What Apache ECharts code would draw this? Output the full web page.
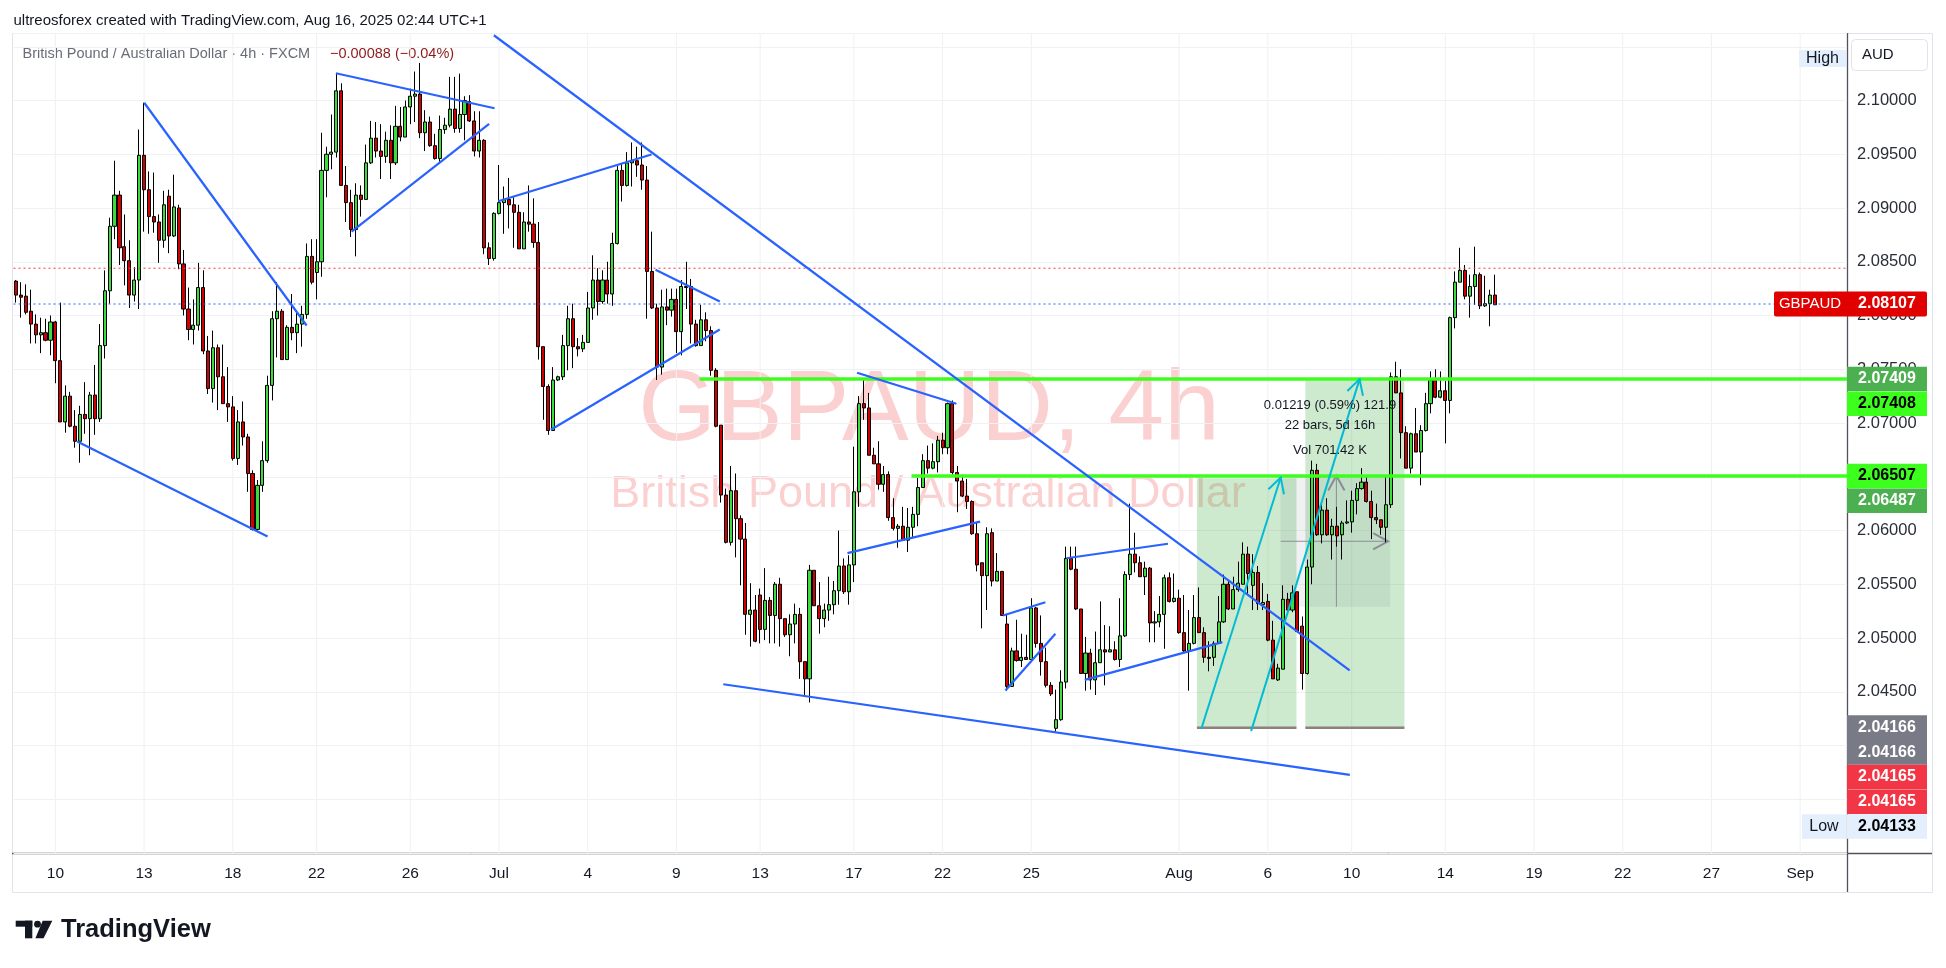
<!DOCTYPE html>
<html><head><meta charset="utf-8">
<script src="https://cdn.jsdelivr.net/npm/echarts@6/dist/echarts.min.js"></script>
<style>html,body{margin:0;padding:0;background:#fff}#c{width:1946px;height:968px}</style>
</head><body><div id="c"></div>
<script>
// ---------- DATA ----------
// 4h candles [open, close, low, high]
const juneBars = [
[2.0832,2.0819,2.0812,2.0833],[2.0819,2.0817,2.0798,2.0831],[2.0818,2.0803,2.0801,2.0829],[2.0804,2.0792,2.0774,2.0824],
[2.0792,2.0782,2.0774,2.0801],[2.0782,2.0784,2.0765,2.0798],[2.0784,2.0777,2.0776,2.0797],[2.0777,2.0794,2.0763,2.0800],
[2.0794,2.0758,2.0737,2.0795],[2.0758,2.0701,2.0701,2.0812],[2.0701,2.0725,2.0691,2.0735],[2.0725,2.0697,2.0696,2.0729],
[2.0697,2.0683,2.0677,2.0712],[2.0683,2.0708,2.0663,2.0716],[2.0708,2.0704,2.0690,2.0738],[2.0704,2.0726,2.0670,2.0729],
[2.0726,2.0704,2.0689,2.0754],[2.0704,2.0772,2.0701,2.0792],[2.0772,2.0823,2.0760,2.0842],[2.0823,2.0883,2.0811,2.0891],
[2.0883,2.0912,2.0871,2.0944],[2.0912,2.0863,2.0847,2.0916],[2.0864,2.0851,2.0828,2.0894],[2.0851,2.0819,2.0807,2.0870],
[2.0819,2.0833,2.0813,2.0845],[2.0833,2.0949,2.0806,2.0973],[2.0949,2.0917,2.0878,2.0998],[2.0917,2.0892,2.0876,2.0934],
[2.0892,2.0887,2.0877,2.0933],[2.0887,2.0870,2.0849,2.0894],[2.0870,2.0903,2.0863,2.0916],[2.0911,2.0874,2.0858,2.0917],
[2.0874,2.0901,2.0873,2.0931],[2.0900,2.0848,2.0843,2.0903],[2.0848,2.0806,2.0800,2.0861],[2.0806,2.0787,2.0777,2.0826],
[2.0787,2.0791,2.0773,2.0815],[2.0791,2.0826,2.0786,2.0849],[2.0826,2.0767,2.0764,2.0842],[2.0767,2.0732,2.0727,2.0781],
[2.0732,2.0770,2.0719,2.0786],[2.0770,2.0743,2.0712,2.0773],[2.0743,2.0718,2.0718,2.0773],[2.0718,2.0715,2.0701,2.0752],
[2.0715,2.0667,2.0665,2.0725],[2.0667,2.0701,2.0661,2.0712],[2.0701,2.0687,2.0679,2.0720],[2.0687,2.0653,2.0636,2.0690],
[2.0653,2.0601,2.0600,2.0656],[2.0601,2.0642,2.0600,2.0647],[2.0642,2.0665,2.0636,2.0683],[2.0665,2.0735,2.0663,2.0744],
[2.0735,2.0797,2.0721,2.0804],[2.0797,2.0804,2.0761,2.0831],[2.0804,2.0759,2.0759,2.0806],[2.0759,2.0789,2.0759,2.0791],
[2.0789,2.0784,2.0777,2.0820],[2.0784,2.0792,2.0765,2.0803],[2.0792,2.0801,2.0771,2.0809],[2.0801,2.0855,2.0797,2.0867],
[2.0855,2.0831,2.0829,2.0871],[2.0840,2.0850,2.0815,2.0871],[2.0850,2.0935,2.0836,2.0970],[2.0935,2.0950,2.0910,2.0957],
[2.0950,2.0952,2.0936,2.0987],[2.0952,2.1009,2.0947,2.1025],[2.1009,2.0921,2.0921,2.1016],[2.0921,2.0905,2.0887,2.0939],
[2.0905,2.0880,2.0873,2.0917],[2.0880,2.0912,2.0855,2.0923],[2.0912,2.0908,2.0892,2.0921],[2.0908,2.0942,2.0908,2.0959],
[2.0942,2.0965,2.0941,2.0981],[2.0965,2.0953,2.0947,2.0980],[2.0953,2.0948,2.0927,2.0978],[2.0948,2.0963,2.0942,2.0971],
[2.0963,2.0942,2.0927,2.0977],[2.0942,2.0976,2.0940,2.0995],[2.0976,2.0966,2.0962,2.0994],[2.0966,2.0994,2.0966,2.1000],
[2.0994,2.1004,2.0978,2.1011],[2.1004,2.1006,2.0980,2.1027],[2.1006,2.0970,2.0965,2.1035],[2.0970,2.0980,2.0953,2.0991],
[2.0980,2.0958,2.0957,2.0985],[2.0958,2.0946,2.0945,2.0969],[2.0946,2.0973,2.0943,2.0986],[2.0973,2.0977,2.0969,2.0984],
[2.0977,2.0992,2.0975,2.1022],[2.0992,2.0974,2.0970,2.1022],[2.0974,2.0987,2.0970,2.1025],[2.0987,2.1000,2.0963,2.1004],
[2.0999,2.0981,2.0980,2.1005],[2.0981,2.0953,2.0948,2.0990],[2.0953,2.0963,2.0947,2.0990],[2.0963,2.0863,2.0857,2.0964],
[2.0863,2.0853,2.0847,2.0868],[2.0853,2.0895,2.0851,2.0896]
];
const julyBars = [
[2.0895,2.0905,2.0894,2.0940],[2.0905,2.0908,2.0876,2.0920],[2.0908,2.0903,2.0881,2.0928],[2.0903,2.0896,2.0863,2.0910],
[2.0896,2.0862,2.0862,2.0903],[2.0862,2.0887,2.0862,2.0896],[2.0887,2.0885,2.0878,2.0921],[2.0885,2.0868,2.0863,2.0909],
[2.0868,2.0771,2.0759,2.0887],[2.0771,2.0734,2.0703,2.0771],[2.0734,2.0693,2.0689,2.0736],[2.0693,2.0740,2.0693,2.0752],
[2.0740,2.0743,2.0739,2.0744],[2.0743,2.0772,2.0740,2.0782],[2.0772,2.0797,2.0749,2.0809],[2.0797,2.0771,2.0751,2.0811],
[2.0771,2.0769,2.0762,2.0779],[2.0769,2.0775,2.0766,2.0782],[2.0775,2.0807,2.0775,2.0822],[2.0807,2.0833,2.0796,2.0856],
[2.0833,2.0813,2.0800,2.0844],[2.0813,2.0833,2.0811,2.0842],[2.0833,2.0820,2.0811,2.0850],[2.0820,2.0867,2.0809,2.0877],
[2.0867,2.0935,2.0866,2.0939],[2.0935,2.0921,2.0906,2.0941],[2.0921,2.0942,2.0920,2.0952],[2.0942,2.0944,2.0920,2.0961],
[2.0944,2.0940,2.0929,2.0957],[2.0940,2.0926,2.0917,2.0961],[2.0926,2.0841,2.0797,2.0939],[2.0841,2.0807,2.0806,2.0878],
[2.0807,2.0752,2.0740,2.0811],[2.0752,2.0808,2.0745,2.0824],[2.0808,2.0805,2.0791,2.0825],[2.0805,2.0815,2.0799,2.0825],
[2.0815,2.0785,2.0765,2.0825],[2.0785,2.0827,2.0763,2.0833],[2.0827,2.0826,2.0806,2.0850],[2.0827,2.0792,2.0774,2.0834],
[2.0792,2.0772,2.0771,2.0796],[2.0772,2.0796,2.0772,2.0810],[2.0796,2.0786,2.0776,2.0803],[2.0786,2.0749,2.0744,2.0790],
[2.0749,2.0697,2.0696,2.0751],[2.0698,2.0633,2.0626,2.0698],[2.0633,2.0589,2.0588,2.0639],[2.0589,2.0637,2.0586,2.0660],
[2.0637,2.0611,2.0575,2.0653],[2.0611,2.0592,2.0549,2.0614],[2.0592,2.0522,2.0503,2.0607],[2.0522,2.0526,2.0492,2.0551],
[2.0526,2.0497,2.0496,2.0540],[2.0540,2.0508,2.0495,2.0546],[2.0508,2.0535,2.0498,2.0565],[2.0535,2.0521,2.0495,2.0538],
[2.0521,2.0550,2.0495,2.0552],[2.0550,2.0518,2.0492,2.0556],[2.0518,2.0503,2.0501,2.0518],[2.0503,2.0513,2.0483,2.0522],
[2.0513,2.0522,2.0495,2.0532],[2.0522,2.0478,2.0462,2.0528],[2.0478,2.0462,2.0446,2.0478],[2.0462,2.0563,2.0440,2.0568],
[2.0563,2.0530,2.0530,2.0563],[2.0530,2.0518,2.0504,2.0552],[2.0518,2.0526,2.0510,2.0532],[2.0526,2.0531,2.0516,2.0557],
[2.0531,2.0544,2.0522,2.0553],[2.0544,2.0567,2.0531,2.0600],[2.0567,2.0543,2.0541,2.0574],[2.0543,2.0568,2.0531,2.0577],
[2.0568,2.0636,2.0552,2.0678],[2.0636,2.0718,2.0622,2.0725],[2.0718,2.0714,2.0703,2.0740],[2.0714,2.0670,2.0670,2.0728],
[2.0670,2.0662,2.0662,2.0677],[2.0662,2.0643,2.0638,2.0683],[2.0643,2.0652,2.0636,2.0660],[2.0652,2.0612,2.0609,2.0655],
[2.0612,2.0602,2.0600,2.0630],[2.0602,2.0604,2.0584,2.0606],[2.0604,2.0591,2.0591,2.0622],[2.0591,2.0603,2.0580,2.0621],
[2.0603,2.0615,2.0594,2.0622],[2.0615,2.0640,2.0604,2.0649],[2.0640,2.0665,2.0640,2.0671],[2.0665,2.0658,2.0653,2.0679],
[2.0658,2.0664,2.0657,2.0681],[2.0664,2.0684,2.0654,2.0688],[2.0684,2.0677,2.0671,2.0691],[2.0677,2.0718,2.0671,2.0719],
[2.0718,2.0654,2.0652,2.0721],[2.0654,2.0646,2.0617,2.0660],[2.0646,2.0632,2.0631,2.0652],[2.0632,2.0627,2.0620,2.0648],
[2.0627,2.0597,2.0596,2.0628],[2.0597,2.0568,2.0562,2.0608],[2.0570,2.0558,2.0509,2.0570],[2.0558,2.0597,2.0526,2.0603],
[2.0598,2.0553,2.0548,2.0602],[2.0553,2.0562,2.0553,2.0579],[2.0562,2.0521,2.0521,2.0562],[2.0513,2.0455,2.0451,2.0522],
[2.0455,2.0488,2.0455,2.0491],[2.0488,2.0479,2.0478,2.0517],[2.0479,2.0482,2.0473,2.0504],[2.0482,2.0480,2.0480,2.0503],
[2.0480,2.0528,2.0480,2.0537],[2.0528,2.0495,2.0491,2.0529],[2.0495,2.0478,2.0465,2.0521],[2.0478,2.0456,2.0454,2.0491],
[2.0456,2.0448,2.0446,2.0459],[2.0416,2.0424,2.0413,2.0452],[2.0424,2.0459,2.0423,2.0470],[2.0459,2.0574,2.0453,2.0585],
[2.0574,2.0564,2.0563,2.0585],[2.0564,2.0527,2.0526,2.0585],[2.0527,2.0467,2.0467,2.0527],[2.0467,2.0486,2.0451,2.0501],
[2.0486,2.0461,2.0452,2.0490],[2.0461,2.0477,2.0447,2.0506],[2.0477,2.0489,2.0477,2.0534],[2.0489,2.0487,2.0456,2.0512],
[2.0487,2.0489,2.0487,2.0511],[2.0489,2.0480,2.0479,2.0497],[2.0480,2.0502,2.0473,2.0537],[2.0502,2.0559,2.0501,2.0562],
[2.0559,2.0578,2.0554,2.0625],[2.0578,2.0570,2.0561,2.0598],[2.0570,2.0557,2.0557,2.0576],[2.0557,2.0565,2.0540,2.0571],
[2.0565,2.0514,2.0496,2.0566],[2.0514,2.0515,2.0496,2.0525],[2.0515,2.0522,2.0510,2.0539],[2.0522,2.0556,2.0490,2.0559],
[2.0556,2.0534,2.0533,2.0561],[2.0534,2.0537,2.0533,2.0560]
];
const augBars = [
[2.0537,2.0505,2.0504,2.0545],[2.0505,2.0488,2.0487,2.0540],[2.0488,2.0495,2.0451,2.0526],[2.0495,2.0519,2.0494,2.0540],
[2.0519,2.0505,2.0505,2.0547],[2.0505,2.0482,2.0477,2.0510],[2.0482,2.0481,2.0469,2.0497],[2.0482,2.0495,2.0474,2.0497],
[2.0495,2.0515,2.0495,2.0539],[2.0515,2.0550,2.0514,2.0559],[2.0550,2.0527,2.0526,2.0554],[2.0527,2.0545,2.0527,2.0557],
[2.0545,2.0551,2.0543,2.0571],[2.0550,2.0578,2.0550,2.0589],[2.0578,2.0560,2.0540,2.0585],[2.0549,2.0561,2.0526,2.0578],
[2.0561,2.0532,2.0526,2.0567],[2.0531,2.0533,2.0526,2.0551],[2.0534,2.0498,2.0497,2.0541],[2.0498,2.0462,2.0462,2.0516],
[2.0461,2.0472,2.0460,2.0476],[2.0471,2.0536,2.0471,2.0549],[2.0536,2.0526,2.0524,2.0542],[2.0526,2.0542,2.0524,2.0549],
[2.0543,2.0506,2.0505,2.0543],[2.0511,2.0467,2.0452,2.0520],[2.0467,2.0566,2.0466,2.0573],[2.0566,2.0656,2.0550,2.0665],
[2.0656,2.0596,2.0595,2.0662],[2.0596,2.0619,2.0588,2.0626],[2.0619,2.0596,2.0595,2.0630],[2.0596,2.0604,2.0573,2.0611],
[2.0604,2.0595,2.0585,2.0622],[2.0596,2.0607,2.0573,2.0609],[2.0607,2.0608,2.0606,2.0628],[2.0608,2.0628,2.0598,2.0637],
[2.0628,2.0639,2.0615,2.0644],[2.0639,2.0645,2.0638,2.0658],[2.0645,2.0627,2.0626,2.0651],[2.0627,2.0612,2.0592,2.0637],
[2.0612,2.0610,2.0606,2.0625],[2.0610,2.0603,2.0596,2.0610],[2.0603,2.0624,2.0589,2.0651],[2.0624,2.0743,2.0621,2.0747],
[2.0743,2.0728,2.0728,2.0757],[2.0728,2.0691,2.0667,2.0750],[2.0691,2.0658,2.0658,2.0697],[2.0658,2.0690,2.0653,2.0691],
[2.0690,2.0673,2.0673,2.0714],[2.0673,2.0693,2.0642,2.0698],[2.0693,2.0718,2.0692,2.0728],[2.0718,2.0740,2.0709,2.0748],
[2.0740,2.0724,2.0723,2.0750],[2.0724,2.0730,2.0723,2.0748],[2.0730,2.0721,2.0681,2.0739],[2.0721,2.0798,2.0709,2.0799],
[2.0798,2.0831,2.0788,2.0841],[2.0831,2.0842,2.0831,2.0863],[2.0842,2.0818,2.0815,2.0847],[2.0818,2.0827,2.0798,2.0838],
[2.0827,2.0838,2.0810,2.0864],[2.0838,2.0809,2.0806,2.0840],[2.0809,2.0811,2.0808,2.0837],[2.0811,2.0819,2.0790,2.0824],
[2.0819,2.0810,2.0810,2.0838]
];
// x axis tick labels (first bar of each date)
const tickDates = ['2025-06-10','2025-06-13','2025-06-18','2025-06-22','2025-06-26','2025-07-01','2025-07-04','2025-07-09','2025-07-13','2025-07-17','2025-07-22','2025-07-25','2025-08-01','2025-08-06','2025-08-10','2025-08-14','2025-08-19','2025-08-22','2025-08-27','2025-09-01'];
const tickLabels = ['10','13','18','22','26','Jul','4','9','13','17','22','25','Aug','6','10','14','19','22','27','Sep'];
// drawings: [barIndex1, price1, barIndex2, price2]
const trendLines = [
[26.02,2.09979,58.97,2.07907],[12.43,2.06828,51.05,2.05944],[64.91,2.10254,97.10,2.09928],[68.09,2.08781,96.00,2.09783],
[97.83,2.09063,128.94,2.09498],[96.96,2.10607,270.59,2.04698],[129.76,2.08425,142.80,2.08130],[108.52,2.06937,142.80,2.07870],
[170.65,2.07467,190.81,2.07179],[143.51,2.04570,270.63,2.03727],[168.70,2.05789,195.62,2.06082],[200.26,2.05209,208.86,2.05333],
[200.75,2.04512,210.89,2.05040],[213.12,2.05742,233.73,2.05877],[216.84,2.04611,244.77,2.04962]
];
const levelLines = [[138.7,2.07409],[181.7,2.06507]];      // green horizontal levels, from bar to right edge
const highDotted = 2.0844;                                  // red dotted level
const lastPrice = 2.08107;                                  // last close
const zones = [[239.6,2.04166,259.8,2.06487],[261.6,2.04165,281.7,2.07408]];
const arrows = [[240.5,2.04156,256.6,2.06493],[250.6,2.04134,272.6,2.07408]];
const rangeBox = [256.6,2.05291,278.8,2.06510];
const rangeMid = [267.9,2.0590];
const rangeText = ['0.01219 (0.59%) 121.9','22 bars, 5d 16h','Vol 701.42 K'];
const rangeTextPos = [[266.6,2.07163],[266.6,2.06977],[266.6,2.06744]];
const axisTags = [
 {p:2.07409,t:'2.07409',bg:'#4caf50',fg:'#ffffff'},
 {p:2.07408,t:'2.07408',bg:'#3cff1e',fg:'#000000'},
 {p:2.06507,t:'2.06507',bg:'#3cff1e',fg:'#000000'},
 {p:2.06487,t:'2.06487',bg:'#4caf50',fg:'#ffffff'},
 {p:2.04166,t:'2.04166',bg:'#787b86',fg:'#ffffff'},
 {p:2.04166,t:'2.04166',bg:'#787b86',fg:'#ffffff'},
 {p:2.04165,t:'2.04165',bg:'#f23645',fg:'#ffffff'},
 {p:2.04165,t:'2.04165',bg:'#f23645',fg:'#ffffff'},
 {p:2.04133,t:'2.04133',bg:'#e3effd',fg:'#000000',side:'Low'}
];

// ---------- BUILD ----------
const N_SLOTS = 372;
const barTimes = [];
let t = Date.UTC(2025,5,6,18);
while (barTimes.length < N_SLOTS) {
  const d = new Date(t), day = d.getUTCDay(), h = d.getUTCHours();
  const ok = !(day === 6 || (day === 0 && h < 22) || (day === 5 && h > 18));
  if (ok) barTimes.push(d.toISOString().slice(0,13));
  t += 4*3600e3;
}
const tickIdx = new Map();
tickDates.forEach((td,k)=>{ const i = barTimes.findIndex(b=>b.startsWith(td)); if(i>=0) tickIdx.set(i, tickLabels[k]); });
const candles = juneBars.concat(julyBars, augBars);

const FONT = '"Liberation Sans", Arial, sans-serif';
const NARROW = '"Liberation Sans Narrow", "Liberation Sans", Arial, sans-serif';
const chart = echarts.init(document.getElementById('c'), null, {renderer:'canvas'});

function lineEl(a,b,stroke,w,dash){return {type:'line',shape:{x1:a[0],y1:a[1],x2:b[0],y2:b[1]},style:{stroke:stroke,lineWidth:w,lineDash:dash||null}};}
function chevron(tip,ang,stroke){const L=17,s=0.5;return {type:'polyline',shape:{points:[[tip[0]-L*Math.cos(ang-s),tip[1]-L*Math.sin(ang-s)],tip,[tip[0]-L*Math.cos(ang+s),tip[1]-L*Math.sin(ang+s)]]},style:{stroke:stroke,lineWidth:2,fill:null}};}

const option = {
  animation:false,
  backgroundColor:'#ffffff',
  grid:{left:13.5,right:99,top:33,bottom:115,containLabel:false},
  xAxis:[
    {type:'category',data:barTimes,boundaryGap:true,
     axisLine:{show:false},axisTick:{show:false},splitLine:{show:false},
     axisLabel:{interval:(i)=>tickIdx.has(i),formatter:(v,i)=>tickIdx.get(i)||'',color:'#131722',fontFamily:FONT,fontSize:15.5,margin:13}},
    {type:'value',min:-0.5,max:N_SLOTS-0.5,show:false}
  ],
  yAxis:{type:'value',position:'right',min:2.03,max:2.10628,interval:0.005,scale:true,
    axisLine:{show:false},axisTick:{show:false},
    splitLine:{show:true,lineStyle:{color:'#f0f1f4',width:1}},
    axisLabel:{margin:10,color:'#2a2e39',fontFamily:FONT,fontSize:16.5,
      formatter:(v)=>(v>2.0449 && v<2.1001)?v.toFixed(5):''}},
  series:[
    {type:'custom',xAxisIndex:1,yAxisIndex:0,silent:true,z:0,data:[...tickIdx.keys()].map(i=>[i]),
     renderItem:(p,api)=>{const x=api.coord([api.value(0),2.05])[0];const cs=p.coordSys;
       return lineEl([x,cs.y],[x,cs.y+cs.height],'#f0f1f4',1);}},
    {type:'custom',xAxisIndex:1,yAxisIndex:0,silent:true,z:1,data:zones,encode:{x:[0,2],y:[1,3]},
     renderItem:(p,api)=>{const a=api.coord([api.value(0),api.value(3)]),b=api.coord([api.value(2),api.value(1)]);
       return {type:'group',children:[
         {type:'rect',shape:{x:a[0],y:a[1],width:b[0]-a[0],height:b[1]-a[1]},style:{fill:'rgba(76,175,80,0.28)'}},
         lineEl([a[0],b[1]],[b[0],b[1]],'#8f7f7f',2.5)]};}},
    {type:'custom',xAxisIndex:1,yAxisIndex:0,silent:true,z:1,data:[rangeBox],encode:{x:[0,2],y:[1,3]},
     renderItem:(p,api)=>{const a=api.coord([api.value(0),api.value(3)]),b=api.coord([api.value(2),api.value(1)]);
       const m=api.coord(rangeMid);
       return {type:'group',children:[
         {type:'rect',shape:{x:a[0],y:a[1],width:b[0]-a[0],height:b[1]-a[1]},style:{fill:'rgba(90,95,110,0.09)'}},
         lineEl([m[0],b[1]],[m[0],a[1]],'#8a8d96',1),
         chevron([m[0],a[1]],-Math.PI/2,'#8a8d96'),
         lineEl([a[0],m[1]],[b[0]-2,m[1]],'#8a8d96',1),
         chevron([b[0]-2,m[1]],0,'#8a8d96')]};}},
    {type:'candlestick',xAxisIndex:0,yAxisIndex:0,z:2,barWidth:3.6,silent:true,data:candles,
     itemStyle:{color:'#3ddc3d',color0:'#d10000',borderColor:'#000000',borderColor0:'#000000',borderWidth:1}},
    {type:'custom',xAxisIndex:1,yAxisIndex:0,silent:true,z:3,data:[[highDotted],[lastPrice]],
     renderItem:(p,api)=>{const y=api.coord([0,api.value(0)])[1];const cs=p.coordSys;
       return lineEl([cs.x,y],[cs.x+cs.width,y],p.dataIndex===0?'#f23645':'#2962ff',1,[2,3]);}},
    {type:'custom',xAxisIndex:1,yAxisIndex:0,silent:true,z:4,data:levelLines,
     renderItem:(p,api)=>{const a=api.coord([api.value(0),api.value(1)]);const cs=p.coordSys;
       return lineEl(a,[cs.x+cs.width,a[1]],'#3cff1e',3.5);}},
    {type:'custom',xAxisIndex:1,yAxisIndex:0,silent:true,z:5,data:trendLines,encode:{x:[0,2],y:[1,3]},
     renderItem:(p,api)=>lineEl(api.coord([api.value(0),api.value(1)]),api.coord([api.value(2),api.value(3)]),'#2962ff',2.2)},
    {type:'custom',xAxisIndex:1,yAxisIndex:0,silent:true,z:5,data:arrows,encode:{x:[0,2],y:[1,3]},
     renderItem:(p,api)=>{const a=api.coord([api.value(0),api.value(1)]),b=api.coord([api.value(2),api.value(3)]);
       const ang=Math.atan2(b[1]-a[1],b[0]-a[0]);
       return {type:'group',children:[lineEl(a,b,'#00bcd4',2),chevron(b,ang,'#00bcd4')]};}},
    {type:'custom',xAxisIndex:1,yAxisIndex:0,silent:true,z:6,data:rangeTextPos,
     renderItem:(p,api)=>{const a=api.coord([api.value(0),api.value(1)]);
       return {type:'text',x:a[0],y:a[1],style:{text:rangeText[p.dataIndex],fill:'#131722',font:'13px '+NARROW,align:'center',verticalAlign:'middle'}};}}
  ],
  graphic:[]
};
chart.setOption(option);

// ---------- overlay texts / price tags ----------
const py = (p)=>chart.convertToPixel({yAxisIndex:0},p);
const g = [];
// watermark
g.push({type:'text',z:-10,silent:true,x:929,y:412,style:{text:'GBPAUD, 4h',font:'100px '+FONT,fill:'rgba(242,80,80,0.27)',align:'center',verticalAlign:'middle'}});
g.push({type:'text',z:-10,silent:true,x:928,y:495,style:{text:'British Pound / Australian Dollar',font:'45px '+FONT,fill:'rgba(242,80,80,0.27)',align:'center',verticalAlign:'middle'}});
// frame
g.push({type:'rect',silent:true,shape:{x:12.5,y:33.5,width:1920,height:859},style:{fill:null,stroke:'#e0e3eb',lineWidth:1}});
g.push({type:'line',silent:true,shape:{x1:12,y1:853.5,x2:1932,y2:853.5},style:{stroke:'#50535e',lineWidth:1.3}});
g.push({type:'line',silent:true,shape:{x1:1847.5,y1:33,x2:1847.5,y2:892},style:{stroke:'#50535e',lineWidth:1.3}});
// header & legend
g.push({type:'text',x:13.5,y:21,style:{text:'ultreosforex created with TradingView.com, Aug 16, 2025 02:44 UTC+1',font:'15px '+FONT,fill:'#131722',verticalAlign:'middle'}});
g.push({type:'text',x:22.5,y:54,style:{text:'British Pound / Australian Dollar · 4h · FXCM',font:'14.5px '+FONT,fill:'#6a6d78',verticalAlign:'middle'}});
g.push({type:'text',x:330,y:54,style:{text:'\u22120.00088 (\u22120.04%)',font:'14.5px '+FONT,fill:'#8c1c1c',verticalAlign:'middle'}});
// AUD box
g.push({type:'rect',shape:{x:1851.5,y:39.5,width:76,height:31,r:4},style:{fill:'#ffffff',stroke:'#e0e3eb',lineWidth:1}});
g.push({type:'text',x:1862,y:55,style:{text:'AUD',font:'15px '+FONT,fill:'#131722',verticalAlign:'middle'}});
// High tag
g.push({type:'rect',shape:{x:1799,y:50,width:47,height:17},style:{fill:'#e3effd'}});
g.push({type:'text',x:1822.5,y:58.5,style:{text:'High',font:'16px '+FONT,fill:'#131722',align:'center',verticalAlign:'middle'}});
// last price tag
const lpY = py(lastPrice);
g.push({type:'rect',z:50,shape:{x:1774,y:lpY-12.5,width:153,height:25,r:2},style:{fill:'#e00000'}});
g.push({type:'text',z:51,x:1810,y:lpY,style:{text:'GBPAUD',font:'15px '+FONT,fill:'#ffffff',align:'center',verticalAlign:'middle'}});
g.push({type:'text',z:51,x:1887,y:lpY,style:{text:lastPrice.toFixed(5),font:'bold 16px '+FONT,fill:'#ffffff',align:'center',verticalAlign:'middle'}});
// stacked tags
let prev = -1e9;
axisTags.forEach(tg=>{
  let c = py(tg.p);
  if (c < prev + 24.7) c = prev + 24.7;
  prev = c;
  g.push({type:'rect',z:50,shape:{x:1847,y:c-12.3,width:80,height:24.6},style:{fill:tg.bg}});
  g.push({type:'text',z:51,x:1887,y:c,style:{text:tg.t,font:'bold 16px '+FONT,fill:tg.fg,align:'center',verticalAlign:'middle'}});
  if (tg.side) {
    g.push({type:'rect',z:50,shape:{x:1802,y:c-12.3,width:44,height:24.6},style:{fill:tg.bg}});
    g.push({type:'text',z:51,x:1824,y:c,style:{text:tg.side,font:'16px '+FONT,fill:'#131722',align:'center',verticalAlign:'middle'}});
  }
});
// TradingView logo
g.push({type:'rect',shape:{x:15.7,y:920.7,width:16.6,height:6},style:{fill:'#131722'}});
g.push({type:'rect',shape:{x:25,y:920.7,width:7.3,height:17.6},style:{fill:'#131722'}});
g.push({type:'circle',shape:{cx:37.5,cy:924.2,r:3.4},style:{fill:'#131722'}});
g.push({type:'polygon',shape:{points:[[42.7,920.7],[52.3,920.7],[43.6,938.3],[35.4,938.3]]},style:{fill:'#131722'}});
g.push({type:'text',x:61,y:929.5,style:{text:'TradingView',font:'bold 25.5px '+FONT,fill:'#131722',verticalAlign:'middle'}});
chart.setOption({graphic:g});
</script>
</body></html>
